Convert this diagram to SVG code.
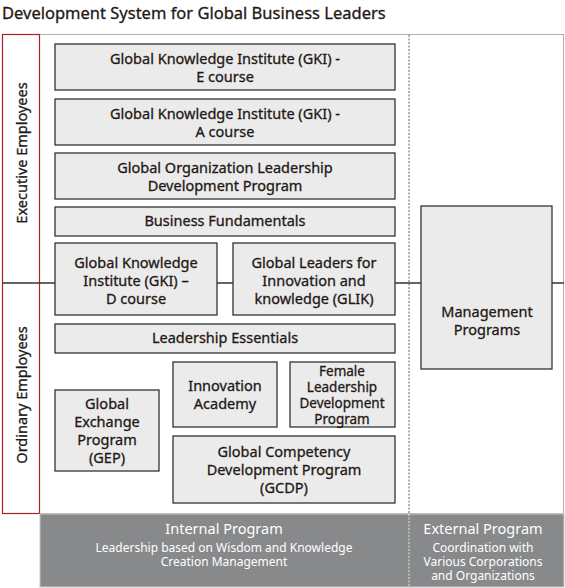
<svg xmlns="http://www.w3.org/2000/svg" width="565" height="588" viewBox="0 0 565 588">
<style>
text{font-family:"Noto Sans","Open Sans",sans-serif;fill:#231815;text-anchor:middle}
.t{font-size:14.5px;stroke:#231815;stroke-width:0.3}
.s{font-size:13.5px;stroke:#231815;stroke-width:0.3}
.box rect{fill:#ebebeb;stroke:#333;stroke-width:1.3}
.band text{fill:#fff}
</style>
<rect x="0" y="0" width="565" height="588" fill="#fff"/>
<text x="2" y="19" style="font-size:16.5px;text-anchor:start;stroke:#231815;stroke-width:0.3">Development System for Global Business Leaders</text>
<g id="frame">
<rect x="2.5" y="34.5" width="561" height="479" fill="none" stroke="#b0b0b0" stroke-width="1"/>
<rect x="2.5" y="34.5" width="37" height="479" fill="none" stroke="#b01f2e" stroke-width="1.2"/>
<line x1="409" y1="35" x2="409" y2="588" stroke="#888" stroke-width="1.3" stroke-dasharray="2,1.5"/>
<text transform="translate(27,153) rotate(-90)" class="t">Executive Employees</text>
<text transform="translate(27,395) rotate(-90)" class="t">Ordinary Employees</text>
</g>
<g id="connectors" stroke="#333" stroke-width="1.5">
<line x1="2" y1="283" x2="55" y2="283"/>
<line x1="217" y1="283" x2="233" y2="283"/>
<line x1="395" y1="283" x2="421" y2="283"/>
<line x1="552" y1="283" x2="564" y2="283"/>
</g>
<g id="gki-e" class="box"><rect x="55" y="44" width="340" height="46"/><text class="t" x="225" y="64">Global Knowledge Institute (GKI) -</text><text class="t" x="225" y="82">E course</text></g>
<g id="gki-a" class="box"><rect x="55" y="99" width="340" height="46"/><text class="t" x="225" y="119">Global Knowledge Institute (GKI) -</text><text class="t" x="225" y="137">A course</text></g>
<g id="goldp" class="box"><rect x="55" y="153" width="340" height="46"/><text class="t" x="225" y="173">Global Organization Leadership</text><text class="t" x="225" y="191">Development Program</text></g>
<g id="bf" class="box"><rect x="55" y="207" width="340" height="29"/><text class="t" x="225" y="226">Business Fundamentals</text></g>
<g id="gki-d" class="box"><rect x="55" y="243" width="162" height="72"/><text class="t" x="136" y="268">Global Knowledge</text><text class="t" x="136" y="286">Institute (GKI) –</text><text class="t" x="136" y="304">D course</text></g>
<g id="glik" class="box"><rect x="233" y="243" width="162" height="72"/><text class="t" x="314" y="268">Global Leaders for</text><text class="t" x="314" y="286">Innovation and</text><text class="t" x="314" y="304">knowledge (GLIK)</text></g>
<g id="le" class="box"><rect x="55" y="324" width="340" height="29"/><text class="t" x="225" y="343">Leadership Essentials</text></g>
<g id="ia" class="box"><rect x="173" y="362" width="104" height="65"/><text class="t" x="225" y="391">Innovation</text><text class="t" x="225" y="409">Academy</text></g>
<g id="fldp" class="box"><rect x="290" y="362" width="105" height="65"/><text class="s" x="342" y="376">Female</text><text class="s" x="342" y="392">Leadership</text><text class="s" x="342" y="408">Development</text><text class="s" x="342" y="424">Program</text></g>
<g id="gep" class="box"><rect x="55" y="390" width="104" height="81"/><text class="t" x="107" y="409">Global</text><text class="t" x="107" y="427">Exchange</text><text class="t" x="107" y="445">Program</text><text class="t" x="107" y="463">(GEP)</text></g>
<g id="gcdp" class="box"><rect x="173" y="436" width="222" height="67"/><text class="t" x="284" y="457">Global Competency</text><text class="t" x="284" y="475">Development Program</text><text class="t" x="284" y="493">(GCDP)</text></g>
<g id="mgmt" class="box"><rect x="421" y="206" width="131" height="163"/><text class="t" x="487" y="317">Management</text><text class="t" x="487" y="335">Programs</text></g>
<g id="band" class="band">
<rect x="40" y="514" width="524" height="73" fill="#88898b" stroke="#c8c8c8" stroke-width="1"/>
<line x1="409" y1="514" x2="409" y2="588" stroke="#d0d0d0" stroke-width="1.3" stroke-dasharray="2,1.5"/>
<text x="224" y="534" style="font-size:14.5px">Internal Program</text>
<text x="224" y="552" style="font-size:12px">Leadership based on Wisdom and Knowledge</text>
<text x="224" y="566" style="font-size:12px">Creation Management</text>
<text x="483" y="534" style="font-size:14.5px">External Program</text>
<text x="483" y="552" style="font-size:12px">Coordination with</text>
<text x="483" y="566" style="font-size:12px">Various Corporations</text>
<text x="483" y="580" style="font-size:12px">and Organizations</text>
</g>
</svg>
